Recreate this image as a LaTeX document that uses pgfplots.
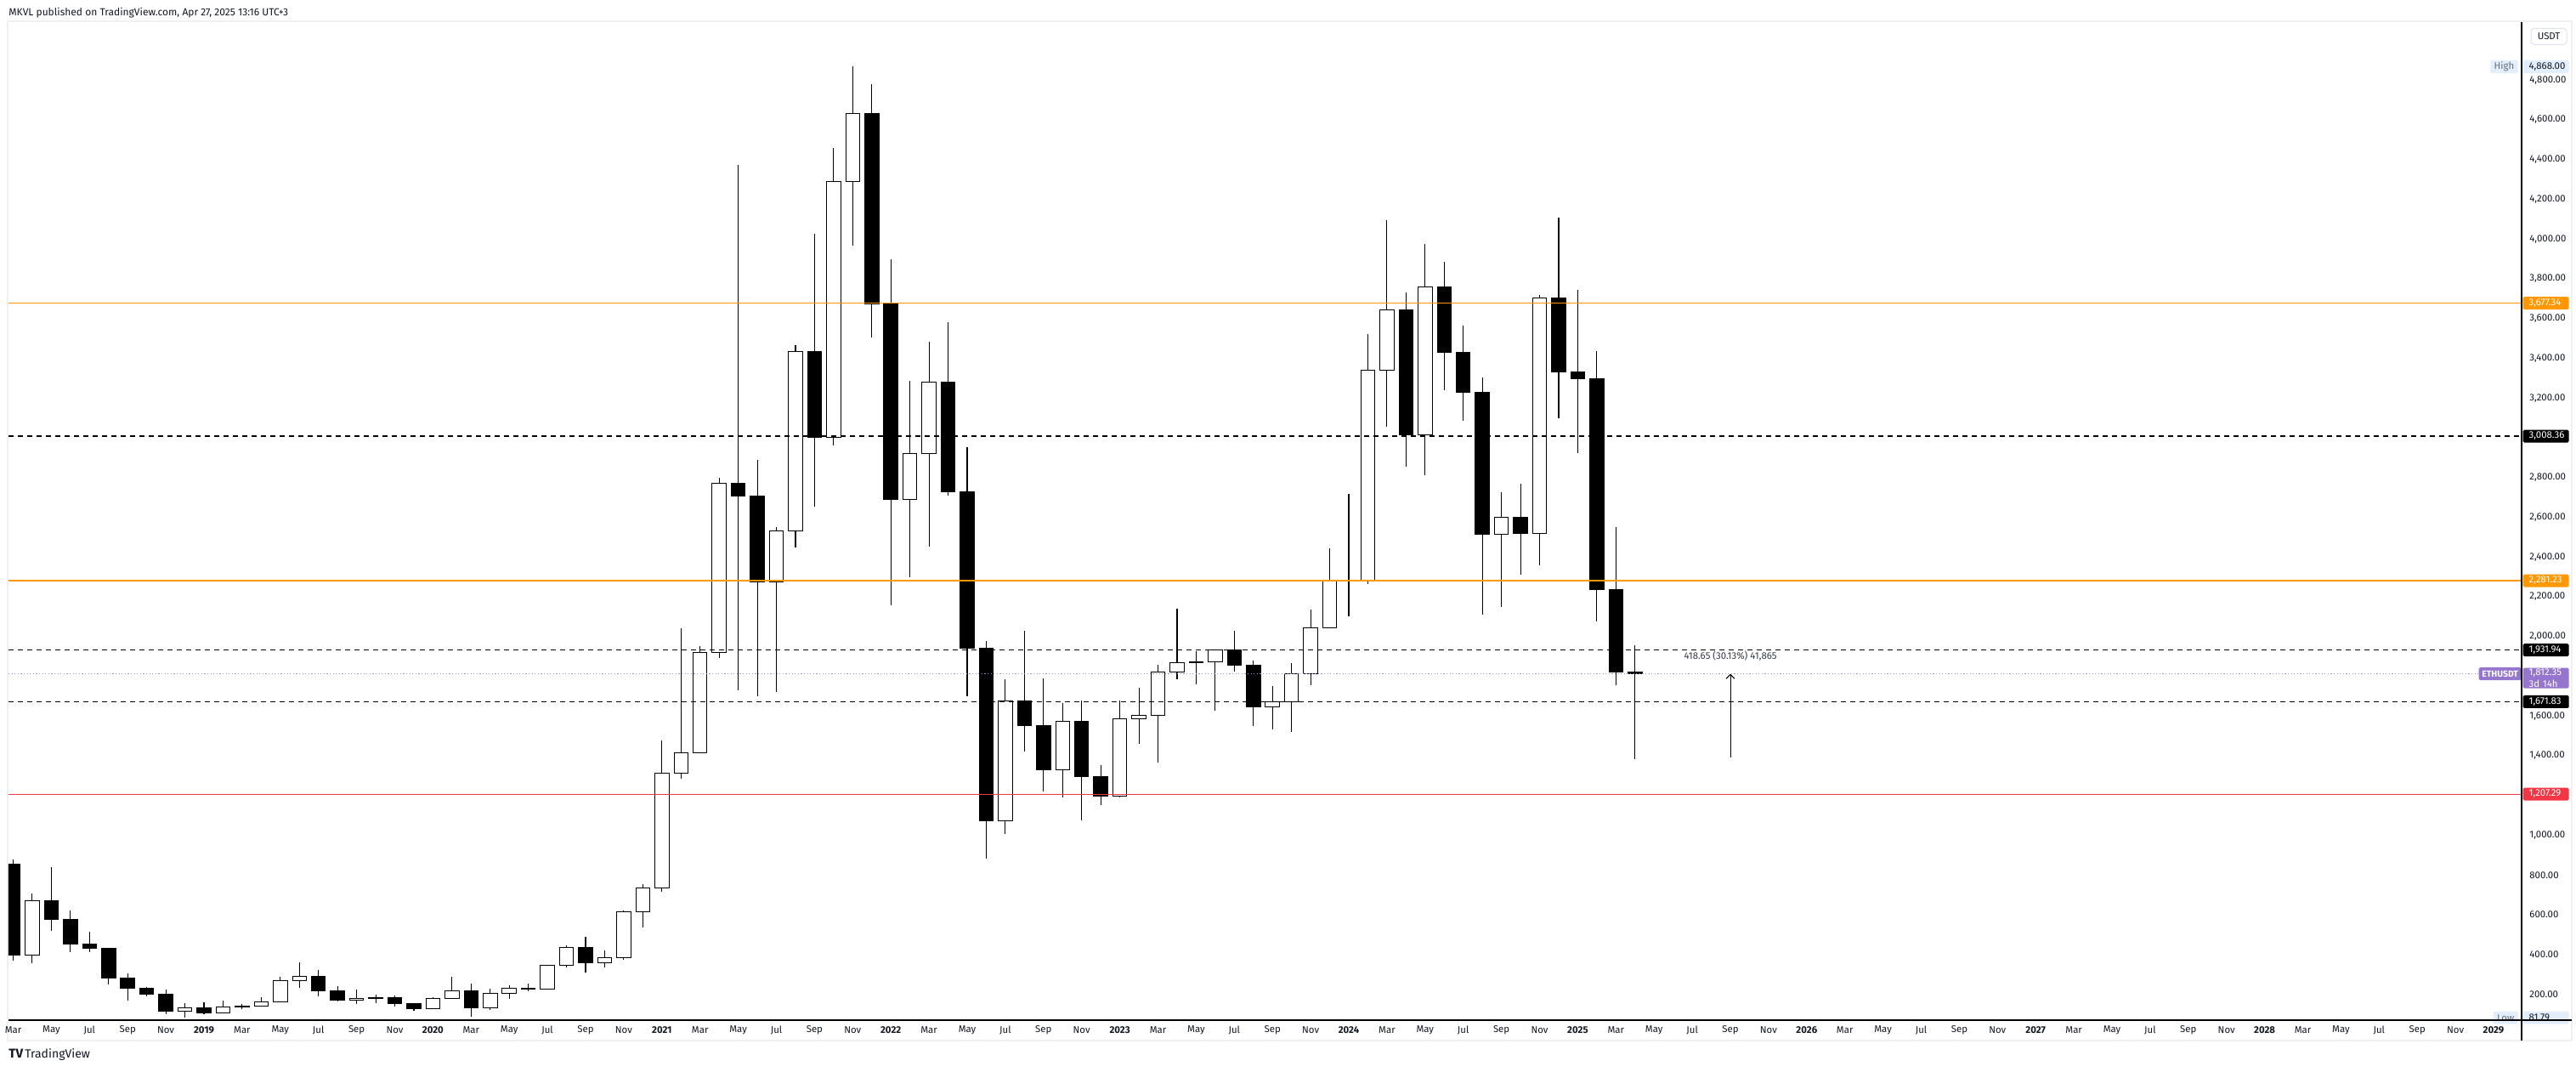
\documentclass[border=0pt]{standalone}
\usepackage{fontspec}
\setmainfont{Fira Sans}
\usepackage{pgfplots}
\pgfplotsset{compat=1.18}
\usepackage{pgfplotstable}
\usetikzlibrary{arrows.meta}

\definecolor{tvorange}{HTML}{FF9800}
\definecolor{tvred}{HTML}{F23645}
\definecolor{tvpurple}{HTML}{9575CD}
\definecolor{tvpline}{HTML}{A08BDA}
\definecolor{tvtext}{HTML}{131722}
\definecolor{tvgrayt}{HTML}{6A6D78}
\definecolor{tvlblue}{HTML}{E3EEFC}
\definecolor{tvborder}{HTML}{EFEFEF}
\definecolor{tvboxb}{HTML}{E0E3EB}

\pgfplotstableread{
m O H L C
2 853.5 880 368 395.2
3 395.2 707 358 670
4 670 838 520 578
5 578 622 413 454
6 454 515 413 433
7 433 435 250 283
8 283 304 167.3 232
9 232 236 188 198
10 198 223 101 113
11 113 157 81.79 133
12 133 160 101 106
13 106.5 166 102 136
14 136 149 124 141
15 141 184 139 162
16 162 288 158 268
17 268 362 231 290
18 290 321 191 218
19 218 239 163 172
20 172 224 152 180
21 180 198 154 182
22 182 195 138 152
23 152 153 117 129
24 129 185 127 179
25 179 288 175 217
26 217 254 86 133
27 133 227 123 206
28 206 245 178 231
29 231 253 215 226
30 226 349 223 345
31 345 446 336 435
32 435 488 308 360
33 360 420 333 386
34 386 622 373 616
35 616 755 535 737
36 737 1476 714 1314
37 1314 2042 1283 1417
38 1417 1950 1416 1918
39 1918 2798 1892 2772
40 2772 4372 1728 2707
41 2707 2891 1701 2274
42 2274 2551 1719 2530
43 2530 3467 2450 3433
44 3433 4027 2652 3001
45 3001 4460 2960 4288
46 4288 4868 3968 4631
47 4631 4778 3503 3676
48 3676 3900 2159 2688
49 2688 3285 2300 2920
50 2920 3483 2451 3282
51 3282 3580 2708 2727
52 2727 2955 1701 1941
53 1941 1976 881 1071
54 1071 1786 1006 1678
55 1678 2031 1422 1553
56 1553 1789 1220 1328
57 1328 1664 1190 1572
58 1572 1678 1073 1295
59 1295 1352 1150 1196
60 1196 1680 1191 1585
61 1585 1743 1461 1605
62 1605 1857 1368 1822
63 1822 2141 1785 1868
64 1868 1928 1760 1874
65 1874 1930 1626 1933
66 1933 2029 1822 1856
67 1856 1880 1550 1645
68 1645 1752 1531 1671
69 1671 1865 1521 1815
70 1815 2135 1756 2045
71 2045 2445 2124 2282
72 2282 2717 2100 2283
73 2283 3523 2266 3340
74 3340 4094 3056 3646
75 3646 3730 2853 3015
76 3015 3976 2810 3760
77 3760 3887 3240 3432
78 3432 3563 3087 3231
79 3231 3305 2111 2513
80 2513 2727 2150 2602
81 2602 2770 2311 2517
82 2517 3720 2357 3702
83 3702 4107 3100 3332
84 3332 3745 2921 3297
85 3297 3437 2076 2237
86 2237 2550 1754 1822
87 1822 1956 1385 1812.35
}\eth

\pgfplotsset{
  base/.style={scale only axis, width=1478.5pt, height=586.5pt,
    at={(5pt,30.5pt)}, anchor=south west,
    xmin=1.755, xmax=133.47, ymin=69.7, ymax=5087.9},
}

\newcommand\plab[4]{%
  \node[anchor=west, fill=#2, text=#3, inner xsep=3.5pt, inner ysep=0pt,
        minimum height=7.5pt, text width=20pt, align=left, rounded corners=0.8pt,
        xshift=0.6pt] at (axis cs:133.47,#1) {#4};}

\begin{document}
\begin{tikzpicture}[font=\fontsize{5.7}{6.8}\selectfont]
\fill[white] (0,0) rectangle (1515.5pt,630.5pt);
\draw[tvborder, line width=1pt] (4.5pt,18.5pt) rectangle (1513pt,618pt);

% wicks
\begin{axis}[base, hide axis]
\addplot[draw=none, mark=none,
  error bars/.cd, y dir=both, y explicit, error mark=none,
  error bar style={draw=black, line width=0.55pt}]
  table[x=m, y expr={(\thisrow{H}+\thisrow{L})/2},
        y error expr={(\thisrow{H}-\thisrow{L})/2}] {\eth};
\end{axis}

% bodies
\begin{axis}[base, hide axis, ybar stacked, bar width=8.25pt]
\addplot[draw=none, fill=none] table[x=m, y expr={min(\thisrow{O},\thisrow{C})}] {\eth};
\addplot[draw=black, fill=white, line width=0.5pt] table[x=m, y expr={max(\thisrow{C}-\thisrow{O},0)}] {\eth};
\addplot[draw=black, fill=black, line width=0.5pt] table[x=m, y expr={max(\thisrow{O}-\thisrow{C},0)}] {\eth};
\end{axis}

% overlays, ticks, labels
\begin{axis}[base, clip=false,
  axis line style={draw=none}, major tick length=0pt, tick style={draw=none},
  xtick={2,4,...,132},
  xticklabels={Mar,May,Jul,Sep,Nov,\textbf{2019},Mar,May,Jul,Sep,Nov,\textbf{2020},Mar,May,Jul,Sep,Nov,\textbf{2021},Mar,May,Jul,Sep,Nov,\textbf{2022},Mar,May,Jul,Sep,Nov,\textbf{2023},Mar,May,Jul,Sep,Nov,\textbf{2024},Mar,May,Jul,Sep,Nov,\textbf{2025},Mar,May,Jul,Sep,Nov,\textbf{2026},Mar,May,Jul,Sep,Nov,\textbf{2027},Mar,May,Jul,Sep,Nov,\textbf{2028},Mar,May,Jul,Sep,Nov,\textbf{2029}},
  xticklabel style={anchor=center, inner sep=0pt, yshift=-6pt, text=tvtext},
  ytick={200,400,600,800,1000,1400,1600,2000,2200,2400,2600,2800,3200,3400,3600,3800,4000,4200,4400,4600,4800},
  yticklabels={200.00,400.00,600.00,800.00,{1,000.00},{1,400.00},{1,600.00},{2,000.00},{2,200.00},{2,400.00},{2,600.00},{2,800.00},{3,200.00},{3,400.00},{3,600.00},{3,800.00},{4,000.00},{4,200.00},{4,400.00},{4,600.00},{4,800.00}},
  yticklabel pos=right,
  yticklabel style={anchor=west, inner sep=0pt, xshift=4.5pt, text=tvtext},
  ]
% horizontal levels
\addplot[tvpline, line width=0.5pt, dash pattern=on 0.6pt off 1.2pt] coordinates {(1.755,1812.35) (133.47,1812.35)};
\addplot[tvorange, line width=0.7pt] coordinates {(1.755,3677.34) (133.47,3677.34)};
\addplot[tvorange, line width=0.7pt] coordinates {(1.755,2281.23) (133.47,2281.23)};
\addplot[black, line width=0.7pt, dash pattern=on 3pt off 2.5pt] coordinates {(1.755,3008.36) (133.47,3008.36)};
\addplot[black, line width=0.7pt, dash pattern=on 3pt off 2.5pt] coordinates {(1.755,1931.94) (133.47,1931.94)};
\addplot[black, line width=0.7pt, dash pattern=on 3pt off 2.5pt] coordinates {(1.755,1671.83) (133.47,1671.83)};
\addplot[tvred, line width=0.5pt] coordinates {(1.755,1207.29) (133.47,1207.29)};
% measurement
\addplot[black, line width=0.5pt, -{Straight Barb[length=2.5pt, width=5pt]}] coordinates {(92,1393.7) (92,1812.35)};
\node[text=tvtext!85] at (axis cs:92,1901) {418.65 (30.13\%) 41,865};

% right-scale labels
\plab{4868}{tvlblue}{tvtext}{4,868.00}
\node[anchor=east, fill=tvlblue, text=tvgrayt, inner xsep=2.2pt, inner ysep=0pt, minimum height=7.5pt, rounded corners=0.8pt, xshift=-2pt] at (axis cs:133.47,4868) {High};
\plab{81.79}{tvlblue}{tvtext}{81.79}
\node[anchor=east, fill=tvlblue, text=tvgrayt, inner xsep=2.2pt, inner ysep=0pt, minimum height=7.5pt, rounded corners=0.8pt, xshift=-2pt] at (axis cs:133.47,81.79) {Low};
\plab{3677.34}{tvorange}{white}{3,677.34}
\plab{3008.36}{black}{white}{3,008.36}
\plab{2281.23}{tvorange}{white}{2,281.23}
\plab{1931.94}{black}{white}{1,931.94}
\plab{1671.83}{black}{white}{1,671.83}
\plab{1207.29}{tvred}{white}{1,207.29}
\node[anchor=north west, fill=tvpurple, text=white, inner xsep=3.5pt, inner ysep=0.6pt,
      text width=20pt, align=left, rounded corners=0.8pt, xshift=0.6pt, yshift=3.75pt,
      font=\fontsize{5.7}{6.9}\selectfont]
      at (axis cs:133.47,1812.35) {1,812.35\\3d 14h};
\node[anchor=east, fill=tvpurple, text=white, inner xsep=1.8pt, inner ysep=0pt, minimum height=7.5pt, rounded corners=0.8pt, font=\fontsize{5.2}{6}\selectfont\bfseries]
      at (axis cs:133.47,1812.35) {ETHUSDT};
\end{axis}

% scale lines
\draw[black, line width=0.75pt] (5pt,30.5pt) -- (1513pt,30.5pt);
\draw[black, line width=0.75pt] (1483.5pt,18.5pt) -- (1483.5pt,617.5pt);
% USDT box
\node[draw=tvboxb, fill=white, rounded corners=2pt, minimum width=21pt, minimum height=9.5pt, inner sep=0pt, text=tvtext, line width=0.5pt] at (1499.5pt,609pt) {USDT};
% header
\node[anchor=west, inner sep=0pt, text=tvtext, font=\fontsize{6}{7}\selectfont] at (5pt,623pt) {MKVL published on TradingView.com, Apr 27, 2025 13:16 UTC+3};
% logo
\node[anchor=west, inner sep=0pt, text=tvtext, font=\fontsize{7}{8}\selectfont] at (5pt,10pt) {{\fontsize{7.5}{8}\selectfont\bfseries TV}\,TradingView};

\pgfresetboundingbox
\useasboundingbox (0,0) rectangle (1515.5pt,630.5pt);
\end{tikzpicture}
\end{document}
